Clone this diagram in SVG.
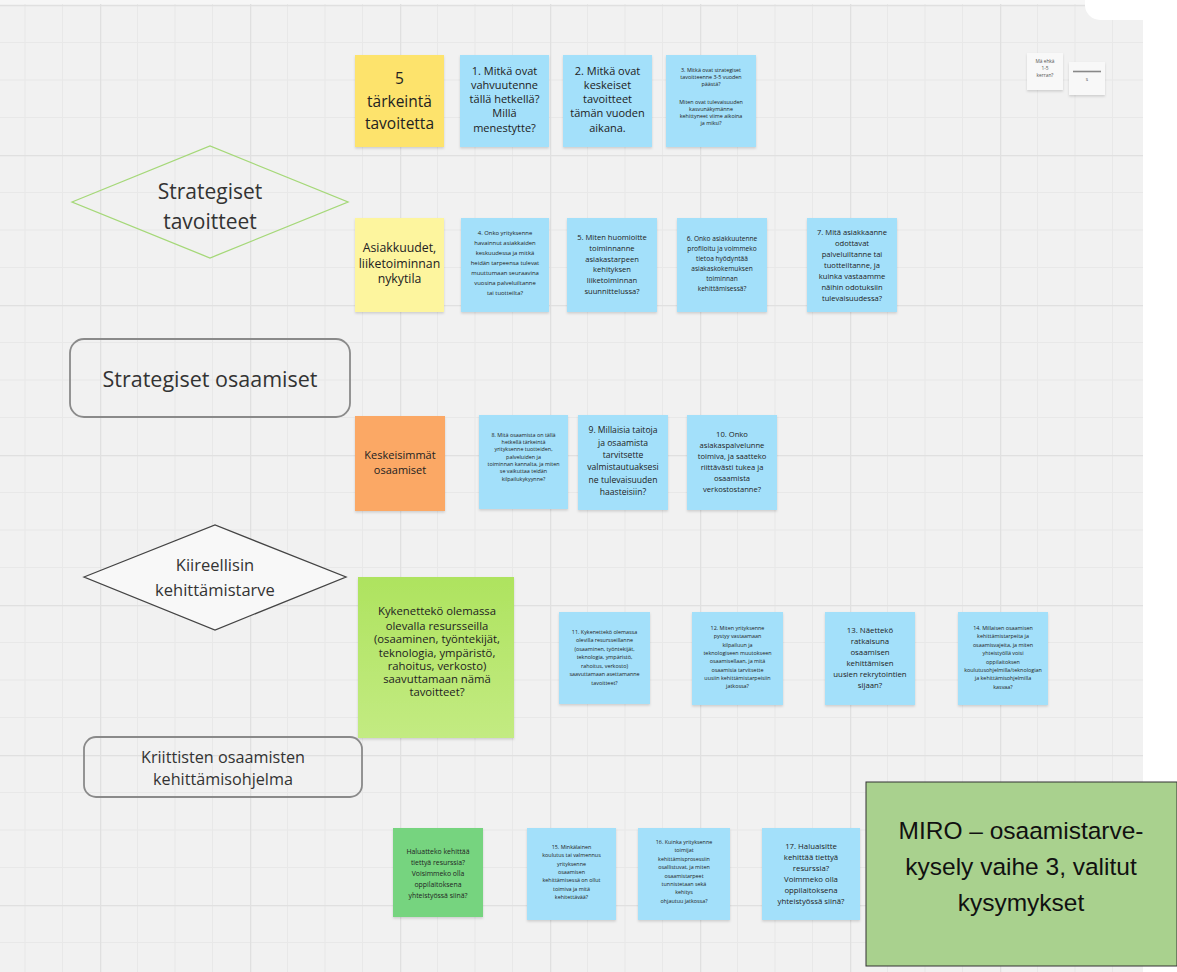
<svg xmlns="http://www.w3.org/2000/svg" width="1177" height="972" viewBox="0 0 1177 972">
<defs>
<pattern id="grid" x="100" y="5" width="150" height="150" patternUnits="userSpaceOnUse">
<rect width="150" height="150" fill="#f1f1f1"/>
<path d="M37.5 0V150M75 0V150M112.5 0V150M0 37.5H150M0 75H150M0 112.5H150" stroke="#e8e8e8" stroke-width="1" fill="none"/>
<path d="M0.5 0V150M0 0.5H150" stroke="#e0e0e0" stroke-width="1.5" fill="none"/>
</pattern>
<filter id="sh" x="-10%" y="-10%" width="120%" height="125%">
<feDropShadow dx="0" dy="1.5" stdDeviation="1.2" flood-color="#000" flood-opacity="0.15"/>
</filter>
<linearGradient id="gg" x1="0" y1="0" x2="0" y2="1">
<stop offset="0" stop-color="#aee35f"/>
<stop offset="1" stop-color="#c3eb82"/>
</linearGradient>
<style>
text{font-family:"Open Sans","Liberation Sans",sans-serif;fill:#222;text-anchor:middle}
.blue{fill:#a3e0fa;filter:url(#sh)}
.yel{fill:#fde36c;filter:url(#sh)}
.ly{fill:#fdf59e;filter:url(#sh)}
.or{fill:#fba865;filter:url(#sh)}
.gr{fill:url(#gg);filter:url(#sh)}
.g2{fill:#76d47f;filter:url(#sh)}
.wh{fill:#f8f8f8;filter:url(#sh)}
.s11{font-size:11px}
.shape{font-size:21px;fill:#333}
</style>
</defs>

<g id="background">
<rect width="1177" height="972" fill="#ffffff"/>
<rect x="0" y="3" width="1143" height="969" fill="url(#grid)"/>
<rect x="0" y="0" width="1143" height="4" fill="#f6f6f6"/>
<path d="M1085 0H1177V20H1100A15 15 0 0 1 1085 5Z" fill="#ffffff"/>
</g>

<g id="connectors"></g>

<g id="n-5-tarkeinta">
<rect class="yel" x="355" y="55" width="89" height="92"/>
<text style="font-size:15.5px"><tspan x="399.5" y="84">5</tspan><tspan x="399.5" y="107">tärkeintä</tspan><tspan x="399.5" y="129">tavoitetta</tspan></text>
</g>

<g id="n-q1">
<rect class="blue" x="460" y="55" width="89" height="92"/>
<text class="s11"><tspan x="504.5" y="75">1. Mitkä ovat</tspan><tspan x="504.5" y="89">vahvuutenne</tspan><tspan x="504.5" y="103">tällä hetkellä?</tspan><tspan x="504.5" y="117">Millä</tspan><tspan x="504.5" y="132">menestytte?</tspan></text>
</g>

<g id="n-q2">
<rect class="blue" x="563" y="55" width="89" height="92"/>
<text class="s11"><tspan x="607.5" y="75">2. Mitkä ovat</tspan><tspan x="607.5" y="89">keskeiset</tspan><tspan x="607.5" y="103">tavoitteet</tspan><tspan x="607.5" y="117">tämän vuoden</tspan><tspan x="607.5" y="132">aikana.</tspan></text>
</g>

<g id="n-q3">
<rect class="blue" x="666" y="55" width="90" height="92"/>
<text style="font-size:5.4px"><tspan x="711" y="72">3. Mitkä ovat strategiset</tspan><tspan x="711" y="79">tavoitteenne 3-5 vuoden</tspan><tspan x="711" y="86">päästä?</tspan><tspan x="711" y="104">Miten ovat tulevaisuuden</tspan><tspan x="711" y="111">kasvunäkymänne</tspan><tspan x="711" y="118">kehittyneet viime aikoina</tspan><tspan x="711" y="125">ja miksi?</tspan></text>
</g>

<g id="n-small-a">
<rect class="wh" x="1027" y="53" width="36" height="37"/>
<text style="font-size:4.8px;fill:#555"><tspan x="1045" y="63">Mä ehkä</tspan><tspan x="1045" y="70">1-5</tspan><tspan x="1045" y="77">kerran?</tspan></text>
</g>

<g id="n-small-b">
<rect class="wh" x="1069" y="62" width="36" height="33"/>
<line x1="1073" y1="71.5" x2="1101" y2="71.5" stroke="#888" stroke-width="1.6"/>
<text style="font-size:4.8px;fill:#555"><tspan x="1087" y="81">s</tspan></text>
</g>

<g id="d-strategiset-tavoitteet">
<polygon points="72,202 210,146 348,202 210,258" fill="none" stroke="#a5d878" stroke-width="1.3"/>
<text class="shape"><tspan x="210" y="199">Strategiset</tspan><tspan x="210" y="229">tavoitteet</tspan></text>
</g>

<g id="n-asiakkuudet">
<rect class="ly" x="355" y="218" width="89" height="94"/>
<text style="font-size:12.3px"><tspan x="399.5" y="252">Asiakkuudet,</tspan><tspan x="399.5" y="268">liiketoiminnan</tspan><tspan x="399.5" y="283">nykytila</tspan></text>
</g>

<g id="n-q4">
<rect class="blue" x="461" y="218" width="88" height="94"/>
<text style="font-size:5.9px"><tspan x="505" y="235">4. Onko yrityksenne</tspan><tspan x="505" y="245">havainnut asiakkaiden</tspan><tspan x="505" y="255">keskuudessa ja mitkä</tspan><tspan x="505" y="265">heidän tarpeensa tulevat</tspan><tspan x="505" y="275">muuttumaan seuraavina</tspan><tspan x="505" y="285">vuosina palveluiltanne</tspan><tspan x="505" y="295">tai tuotteilta?</tspan></text>
</g>

<g id="n-q5">
<rect class="blue" x="567" y="218" width="90" height="94"/>
<text style="font-size:7.6px"><tspan x="612" y="240">5. Miten huomioitte</tspan><tspan x="612" y="251">toiminnanne</tspan><tspan x="612" y="262">asiakastarpeen</tspan><tspan x="612" y="272">kehityksen</tspan><tspan x="612" y="283">liiketoiminnan</tspan><tspan x="612" y="294">suunnittelussa?</tspan></text>
</g>

<g id="n-q6">
<rect class="blue" x="677" y="218" width="90" height="94"/>
<text style="font-size:6.6px"><tspan x="722" y="241">6. Onko asiakkuutenne</tspan><tspan x="722" y="251">profiloitu ja voimmeko</tspan><tspan x="722" y="261">tietoa hyödyntää</tspan><tspan x="722" y="271">asiakaskokemuksen</tspan><tspan x="722" y="281">toiminnan</tspan><tspan x="722" y="291">kehittämisessä?</tspan></text>
</g>

<g id="n-q7">
<rect class="blue" x="807" y="218" width="90" height="94"/>
<text style="font-size:7.6px"><tspan x="852" y="235">7. Mitä asiakkaanne</tspan><tspan x="852" y="246">odottavat</tspan><tspan x="852" y="257">palveluiltanne tai</tspan><tspan x="852" y="268">tuotteiltanne, ja</tspan><tspan x="852" y="279">kuinka vastaamme</tspan><tspan x="852" y="290">näihin odotuksiin</tspan><tspan x="852" y="301">tulevaisuudessa?</tspan></text>
</g>

<g id="r-strategiset-osaamiset">
<rect x="70" y="339" width="280" height="78" rx="14" fill="none" stroke="#8a8a8a" stroke-width="1.8"/>
<text style="font-size:21.5px;fill:#333"><tspan x="210" y="387">Strategiset osaamiset</tspan></text>
</g>

<g id="n-keskeisimmat">
<rect class="or" x="355" y="416" width="90" height="95"/>
<text class="s11"><tspan x="400" y="459">Keskeisimmät</tspan><tspan x="400" y="474">osaamiset</tspan></text>
</g>

<g id="n-q8">
<rect class="blue" x="479" y="415" width="89" height="94"/>
<text style="font-size:5.4px"><tspan x="523.5" y="437">8. Mitä osaamista on tällä</tspan><tspan x="523.5" y="444">hetkellä tärkeintä</tspan><tspan x="523.5" y="451">yrityksenne tuotteiden,</tspan><tspan x="523.5" y="459">palveluiden ja</tspan><tspan x="523.5" y="466">toiminnan kannalta, ja miten</tspan><tspan x="523.5" y="473">se vaikuttaa teidän</tspan><tspan x="523.5" y="481">kilpailukykyynne?</tspan></text>
</g>

<g id="n-q9">
<rect class="blue" x="578" y="415" width="90" height="95"/>
<text style="font-size:8.6px"><tspan x="623" y="433">9. Millaisia taitoja</tspan><tspan x="623" y="446">ja osaamista</tspan><tspan x="623" y="458">tarvitsette</tspan><tspan x="623" y="470">valmistautuaksesi</tspan><tspan x="623" y="483">ne tulevaisuuden</tspan><tspan x="623" y="495">haasteisiin?</tspan></text>
</g>

<g id="n-q10">
<rect class="blue" x="687" y="415" width="90" height="95"/>
<text style="font-size:7.6px"><tspan x="732" y="437">10. Onko</tspan><tspan x="732" y="448">asiakaspalvelunne</tspan><tspan x="732" y="459">toimiva, ja saatteko</tspan><tspan x="732" y="470">riittävästi tukea ja</tspan><tspan x="732" y="481">osaamista</tspan><tspan x="732" y="492">verkostostanne?</tspan></text>
</g>

<g id="d-kiireellisin">
<polygon points="84,577 215,525 346,577 215,630" fill="#f8f8f8" stroke="#444" stroke-width="1.3"/>
<text style="font-size:16.5px;fill:#333"><tspan x="215" y="571">Kiireellisin</tspan><tspan x="215" y="596">kehittämistarve</tspan></text>
</g>

<g id="n-kykenetteko">
<rect class="gr" x="358" y="577" width="156" height="161"/>
<text style="font-size:11.3px"><tspan x="437" y="615">Kykenettekö olemassa</tspan><tspan x="437" y="630">olevalla resursseilla</tspan><tspan x="437" y="643">(osaaminen, työntekijät,</tspan><tspan x="437" y="657">teknologia, ympäristö,</tspan><tspan x="437" y="670">rahoitus, verkosto)</tspan><tspan x="437" y="683">saavuttamaan nämä</tspan><tspan x="437" y="696">tavoitteet?</tspan></text>
</g>

<g id="n-q11">
<rect class="blue" x="559" y="612" width="91" height="92"/>
<text style="font-size:5.4px"><tspan x="604.5" y="634">11. Kykenettekö olemassa</tspan><tspan x="604.5" y="642">olevilla resursseillanne</tspan><tspan x="604.5" y="651">(osaaminen, työntekijät,</tspan><tspan x="604.5" y="659">teknologia, ympäristö,</tspan><tspan x="604.5" y="668">rahoitus, verkosto)</tspan><tspan x="604.5" y="676">saavuttamaan asettamanne</tspan><tspan x="604.5" y="685">tavoitteet?</tspan></text>
</g>

<g id="n-q12">
<rect class="blue" x="692" y="612" width="91" height="93"/>
<text style="font-size:5.4px"><tspan x="737.5" y="630">12. Miten yrityksenne</tspan><tspan x="737.5" y="638">pystyy vastaamaan</tspan><tspan x="737.5" y="647">kilpailuun ja</tspan><tspan x="737.5" y="655">teknologiseen muutokseen</tspan><tspan x="737.5" y="663">osaamisellaan, ja mitä</tspan><tspan x="737.5" y="672">osaamisia tarvitsette</tspan><tspan x="737.5" y="680">uusiin kehittämistarpeisiin</tspan><tspan x="737.5" y="688">jatkossa?</tspan></text>
</g>

<g id="n-q13">
<rect class="blue" x="825" y="612" width="90" height="93"/>
<text style="font-size:7.8px"><tspan x="870" y="633">13. Näettekö</tspan><tspan x="870" y="644">ratkaisuna</tspan><tspan x="870" y="655">osaamisen</tspan><tspan x="870" y="666">kehittämisen</tspan><tspan x="870" y="677">uusien rekrytointien</tspan><tspan x="870" y="688">sijaan?</tspan></text>
</g>

<g id="n-q14">
<rect class="blue" x="958" y="612" width="90" height="93"/>
<text style="font-size:5.4px"><tspan x="1003" y="630">14. Millaisen osaamisen</tspan><tspan x="1003" y="638">kehittämistarpeita ja</tspan><tspan x="1003" y="647">osaamisvajeita, ja miten</tspan><tspan x="1003" y="655">yhteistyöllä voisi</tspan><tspan x="1003" y="664">oppilaitoksen</tspan><tspan x="1003" y="672">koulutusohjelmilla/teknologian</tspan><tspan x="1003" y="680">ja kehittämisohjelmilla</tspan><tspan x="1003" y="689">kasvaa?</tspan></text>
</g>

<g id="r-kriittisten">
<rect x="84" y="737" width="278" height="60" rx="12" fill="none" stroke="#8a8a8a" stroke-width="1.8"/>
<text style="font-size:16.2px;fill:#333"><tspan x="223" y="763">Kriittisten osaamisten</tspan><tspan x="223" y="785">kehittämisohjelma</tspan></text>
</g>

<g id="n-haluatteko">
<rect class="g2" x="393" y="828" width="90" height="89"/>
<text style="font-size:6.9px"><tspan x="438" y="854">Haluatteko kehittää</tspan><tspan x="438" y="865">tiettyä resurssia?</tspan><tspan x="438" y="876">Voisimmeko olla</tspan><tspan x="438" y="887">oppilaitoksena</tspan><tspan x="438" y="898">yhteistyössä siinä?</tspan></text>
</g>

<g id="n-q15">
<rect class="blue" x="527" y="828" width="89" height="92"/>
<text style="font-size:5.4px"><tspan x="571.5" y="849">15. Minkälainen</tspan><tspan x="571.5" y="857">koulutus tai valmennus</tspan><tspan x="571.5" y="866">yrityksenne</tspan><tspan x="571.5" y="874">osaamisen</tspan><tspan x="571.5" y="882">kehittämisessä on ollut</tspan><tspan x="571.5" y="891">toimiva ja mitä</tspan><tspan x="571.5" y="899">kehitettävää?</tspan></text>
</g>

<g id="n-q16">
<rect class="blue" x="638" y="828" width="92" height="92"/>
<text style="font-size:5.4px"><tspan x="684" y="844">16. Kuinka yrityksenne</tspan><tspan x="684" y="852">toimijat</tspan><tspan x="684" y="861">kehittämisprosessiin</tspan><tspan x="684" y="869">osallistuvat, ja miten</tspan><tspan x="684" y="878">osaamistarpeet</tspan><tspan x="684" y="886">tunnistetaan sekä</tspan><tspan x="684" y="894">kehitys</tspan><tspan x="684" y="903">ohjautuu jatkossa?</tspan></text>
</g>

<g id="n-q17">
<rect class="blue" x="762" y="828" width="98" height="92"/>
<text style="font-size:7.8px"><tspan x="811" y="849">17. Haluaisitte</tspan><tspan x="811" y="860">kehittää tiettyä</tspan><tspan x="811" y="871">resurssia?</tspan><tspan x="811" y="882">Voimmeko olla</tspan><tspan x="811" y="893">oppilaitoksena</tspan><tspan x="811" y="904">yhteistyössä siinä?</tspan></text>
</g>

<g id="title-box">
<rect x="866" y="782" width="311" height="184" fill="#a9d18e" stroke="#333" stroke-width="1"/>
<text style="font-family:'Liberation Sans',Arial,sans-serif;font-size:24.5px;fill:#111"><tspan x="1021" y="839">MIRO – osaamistarve-</tspan><tspan x="1021" y="875">kysely vaihe 3, valitut</tspan><tspan x="1021" y="911">kysymykset</tspan></text>
</g>
</svg>
